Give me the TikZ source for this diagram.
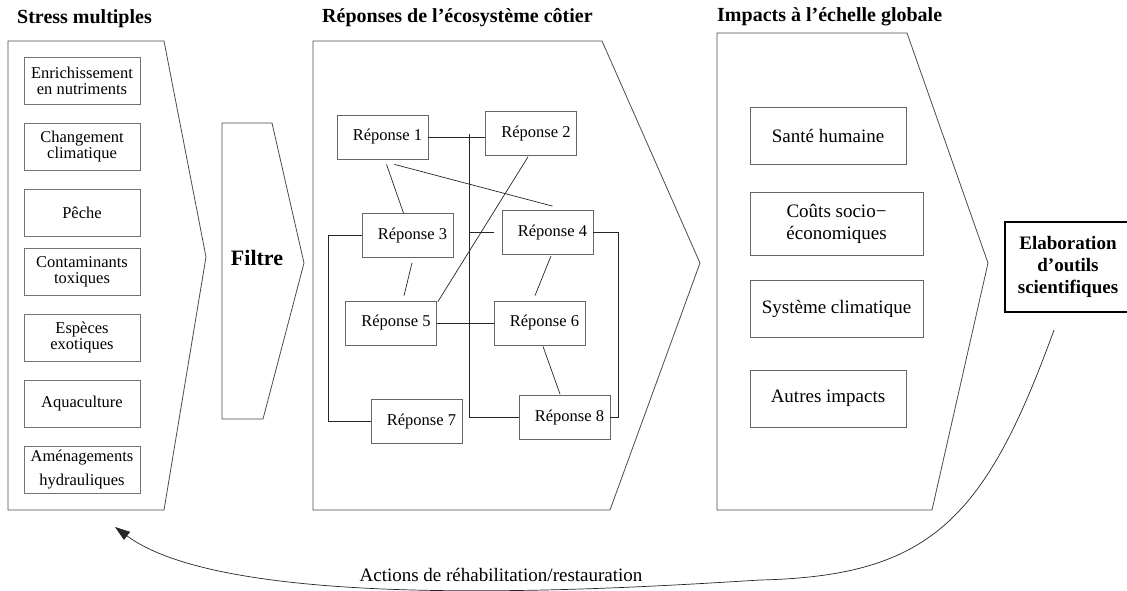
\documentclass[tikz,border=0pt]{standalone}
\usepackage{fontspec}
\setmainfont{Liberation Serif}
\usetikzlibrary{arrows.meta,calc}
\begin{document}
\begin{tikzpicture}[x=1pt,y=-1pt,
  penta/.style={draw=black!70,line width=0.8pt},
  sbox/.style={draw=black!55,line width=0.8pt,minimum width=116pt,minimum height=47pt,inner sep=0pt,align=center,font=\fontsize{16.5}{16}\selectfont},
  rbox/.style={draw=black!60,line width=0.8pt,minimum width=91pt,minimum height=44pt,inner sep=0pt,font=\fontsize{16.5}{16}\selectfont},
  ibox/.style={draw=black!60,line width=0.8pt,minimum height=57pt,inner sep=0pt,align=center,font=\fontsize{19}{22}\selectfont},
  ttl/.style={anchor=west,inner sep=0pt,font=\fontsize{20}{20}\selectfont\bfseries},
  link/.style={draw=black!85,line width=0.7pt}]
\clip (0,0) rectangle (1127,590);
\fill[white] (0,0) rectangle (1127,590);

% titles
\node[ttl] (t1) at (17,19) {Stress multiples};
\node[ttl] (t2) at (322,18) {Réponses de l’écosystème côtier};
\node[ttl] (t3) at (717,17) {Impacts à l’échelle globale};

% pentagons
\draw[penta] (8,41) -- (164,41) -- (206,257) -- (164,510) -- (8,510) -- cycle;
\draw[penta] (222,123) -- (272,123) -- (304,263) -- (263,419) -- (222,419) -- cycle;
\draw[penta] (313,41) -- (602,41) -- (700,263) -- (610,510) -- (313,510) -- cycle;
\draw[penta] (717,33) -- (907,33) -- (988,263) -- (932,510) -- (717,510) -- cycle;

\node[inner sep=0pt,font=\fontsize{22}{22}\selectfont\bfseries] (filtre) at (257,258) {Filtre};

% stress boxes
\node[sbox] (s1) at (82,80.5) {Enrichissement\\en nutriments};
\node[sbox] (s2) at (82,147) {Changement\\climatique};
\node[sbox] (s3) at (82,212.5) {Pêche};
\node[sbox] (s4) at (82,272) {Contaminants\\toxiques};
\node[sbox] (s5) at (82,338) {Espèces\\exotiques};
\node[sbox] (s6) at (82,404) {Aquaculture};
\node[sbox,font=\fontsize{16.5}{24}\selectfont] (s7) at (82,470) {Aménagements\\hydrauliques};

% responses
\node[rbox] (r1) at (382.5,137) {\hspace*{10pt}Réponse 1};
\node[rbox] (r2) at (531,133.5) {\hspace*{10pt}Réponse 2};
\node[rbox] (r3) at (407.5,235.5) {\hspace*{10pt}Réponse 3};
\node[rbox] (r4) at (547.5,232.5) {\hspace*{10pt}Réponse 4};
\node[rbox] (r5) at (391,323) {\hspace*{10pt}Réponse 5};
\node[rbox] (r6) at (539.5,323) {\hspace*{10pt}Réponse 6};
\node[rbox] (r7) at (416.5,421.5) {\hspace*{10pt}Réponse 7};
\node[rbox] (r8) at (564.5,417.5) {\hspace*{10pt}Réponse 8};

\coordinate (bus) at ($(r1.east)!0.724!(r2.west)$);
\draw[link] (r1.east) -- (r2.west |- r1.east);
\draw[link] (bus) |- (r8.west);
\draw[link] (bus |- r4.west) -- ($(r4.west)+(-8,0)$);
\draw[link] ($(r1.south)+(4,5)$) -- ($(r3.north)+(-4,0)$);
\draw[link] ($(r1.south)+(12,5)$) -- ($(r4.north)+(5,-4)$);
\draw[link] ($(r2.south)+(-3,1)$) -- ($(r5.north east)+(1,1)$);
\draw[link] ($(r3.south)+(4.5,5)$) -- ($(r5.north)+(13,-5)$);
\draw[link] (r3.west) -- ++(-33,0) |- (r7.west);
\draw[link] (r4.east) -- ++(25,0) |- (r8.east);
\draw[link] ($(r4.south)+(3.5,1)$) -- ($(r6.north)+(-4.5,-5)$);
\draw[link] (r5.east) -- (r6.west);
\draw[link] ($(r6.south)+(3.5,1)$) -- ($(r8.north)+(-4.5,-1)$);

% impacts
\node[ibox,minimum width=156pt] (i1) at (828,135.5) {Santé humaine};
\node[ibox,minimum width=173pt,minimum height=63pt] (i2) at (836.5,223.5) {Coûts socio−\\économiques};
\node[ibox,minimum width=173pt] (i3) at (836.5,308.5) {Système climatique};
\node[ibox,minimum width=156pt] (i4) at (828,398.5) {Autres impacts};

% elaboration
\node[draw=black,line width=2.2pt,minimum width=126pt,minimum height=90pt,inner sep=0pt,align=center,font=\fontsize{19}{22}\selectfont\bfseries] (elab) at (1068,267) {Elaboration\\d’outils\\scientifiques};

% feedback arrow
\coordinate (cstart) at (1054,330);
\coordinate (cmid) at (760,580);
\coordinate (ctip) at (115,527);
\draw[link,-{Triangle[length=15pt,width=10pt]}] (cstart) .. controls (985,520) and (930,576) .. (cmid)
  .. controls (600,590) and (230,612) .. (ctip);
\node[inner sep=0pt,font=\fontsize{19}{19}\selectfont] (act) at (501,575) {Actions de réhabilitation/restauration};
\end{tikzpicture}
\end{document}
